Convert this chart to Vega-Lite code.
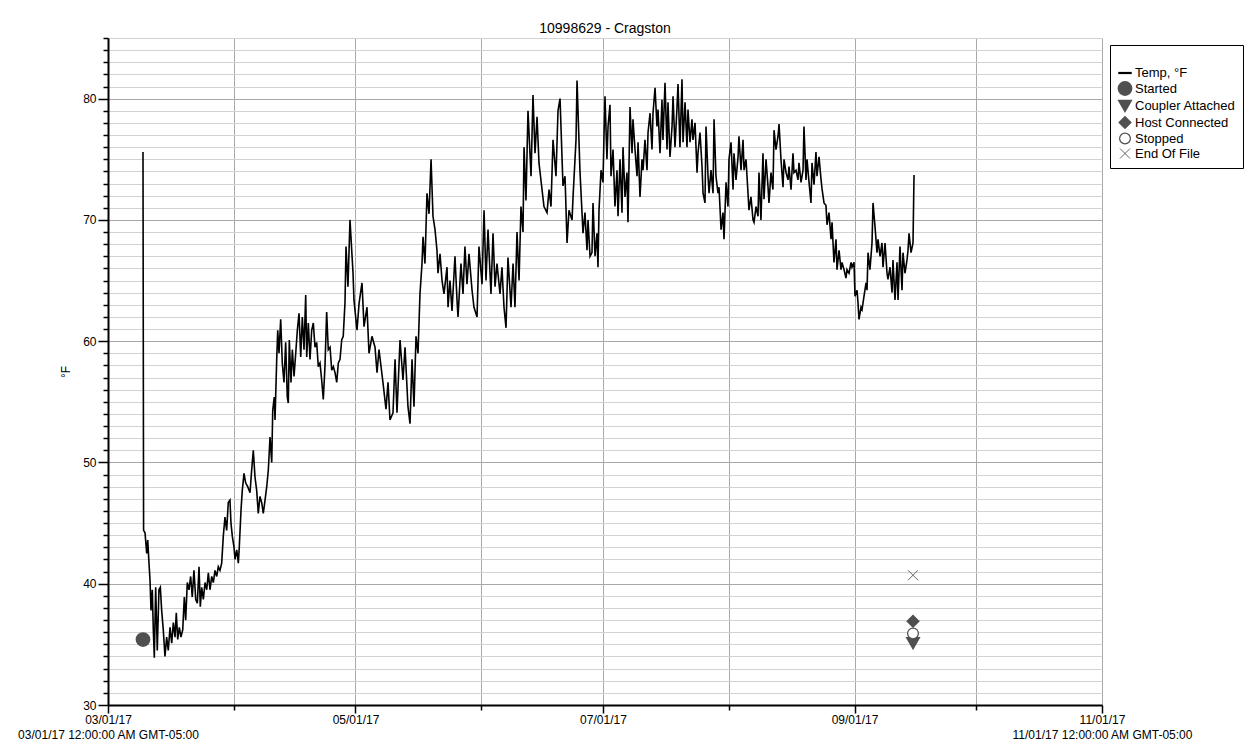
{
  "$schema": "https://vega.github.io/schema/vega-lite/v6.json",
  "width": 994,
  "height": 667,
  "autosize": {"type": "none"},
  "padding": {"left": 108, "top": 38, "right": 148, "bottom": 48},
  "background": "white",
  "config": {
    "font": "Liberation Sans",
    "view": {"stroke": null},
    "axis": {"labelColor": "black", "titleColor": "black"}
  },
  "title": {
    "text": "10998629 - Cragston",
    "fontSize": 14,
    "fontWeight": "normal",
    "color": "black",
    "anchor": "middle",
    "offset": -4
  },
  "datasets": {
    "events": [
      {"t": "2017-03-09T15:00", "event": "Started", "v": 35.4},
      {"t": "2017-09-15T10:00", "event": "Coupler Attached", "v": 35.1},
      {"t": "2017-09-15T10:00", "event": "Host Connected", "v": 36.9},
      {"t": "2017-09-15T10:00", "event": "Stopped", "v": 35.9},
      {"t": "2017-09-15T10:00", "event": "End Of File", "v": 40.7}
    ],
    "temp": [
      {"t": "2017-03-09T15:00", "v": 75.6},
      {"t": "2017-03-09T18:30", "v": 44.4},
      {"t": "2017-03-10T03:00", "v": 44.2},
      {"t": "2017-03-10T13:00", "v": 42.5},
      {"t": "2017-03-10T19:00", "v": 43.6},
      {"t": "2017-03-11T02:30", "v": 41.7},
      {"t": "2017-03-11T08:30", "v": 40.3},
      {"t": "2017-03-11T14:30", "v": 37.8},
      {"t": "2017-03-11T22:00", "v": 39.5},
      {"t": "2017-03-12T04:00", "v": 36.2},
      {"t": "2017-03-12T10:00", "v": 33.9},
      {"t": "2017-03-12T18:00", "v": 39.7},
      {"t": "2017-03-13T03:30", "v": 34.5},
      {"t": "2017-03-13T13:30", "v": 39.5},
      {"t": "2017-03-13T21:30", "v": 39.7},
      {"t": "2017-03-14T05:30", "v": 37.8},
      {"t": "2017-03-14T15:00", "v": 36.2},
      {"t": "2017-03-15T01:00", "v": 34.0},
      {"t": "2017-03-15T11:00", "v": 35.6},
      {"t": "2017-03-15T20:30", "v": 34.5},
      {"t": "2017-03-16T07:00", "v": 36.4},
      {"t": "2017-03-16T17:00", "v": 35.1},
      {"t": "2017-03-17T02:30", "v": 36.8},
      {"t": "2017-03-17T12:30", "v": 35.6},
      {"t": "2017-03-17T20:00", "v": 37.6},
      {"t": "2017-03-18T04:30", "v": 35.4},
      {"t": "2017-03-18T14:00", "v": 36.4},
      {"t": "2017-03-18T23:30", "v": 35.6},
      {"t": "2017-03-19T10:00", "v": 36.2},
      {"t": "2017-03-19T19:30", "v": 38.9},
      {"t": "2017-03-20T03:30", "v": 37.0},
      {"t": "2017-03-20T13:00", "v": 40.1},
      {"t": "2017-03-20T23:00", "v": 39.5},
      {"t": "2017-03-21T09:00", "v": 40.6},
      {"t": "2017-03-21T18:30", "v": 38.9},
      {"t": "2017-03-22T04:30", "v": 41.1},
      {"t": "2017-03-22T15:00", "v": 38.7},
      {"t": "2017-03-23T00:30", "v": 38.4},
      {"t": "2017-03-23T10:30", "v": 41.4},
      {"t": "2017-03-23T18:00", "v": 38.1},
      {"t": "2017-03-24T02:30", "v": 39.7},
      {"t": "2017-03-24T12:00", "v": 38.7},
      {"t": "2017-03-24T22:00", "v": 40.1},
      {"t": "2017-03-25T08:00", "v": 39.5},
      {"t": "2017-03-25T17:30", "v": 40.9},
      {"t": "2017-03-26T03:30", "v": 39.5},
      {"t": "2017-03-26T13:30", "v": 40.6},
      {"t": "2017-03-26T23:00", "v": 40.1},
      {"t": "2017-03-27T09:00", "v": 41.1},
      {"t": "2017-03-27T19:00", "v": 40.6},
      {"t": "2017-03-28T04:30", "v": 41.4},
      {"t": "2017-03-28T14:30", "v": 41.1},
      {"t": "2017-03-29T00:30", "v": 41.7},
      {"t": "2017-03-29T10:00", "v": 43.9},
      {"t": "2017-03-29T20:00", "v": 45.5},
      {"t": "2017-03-30T06:00", "v": 44.4},
      {"t": "2017-03-30T15:30", "v": 46.7},
      {"t": "2017-03-31T01:30", "v": 46.9},
      {"t": "2017-03-31T07:30", "v": 45.0},
      {"t": "2017-03-31T15:30", "v": 43.9},
      {"t": "2017-04-01T01:30", "v": 43.0},
      {"t": "2017-04-01T07:30", "v": 42.0},
      {"t": "2017-04-01T17:30", "v": 42.8},
      {"t": "2017-04-02T03:00", "v": 41.7},
      {"t": "2017-04-02T08:30", "v": 43.0},
      {"t": "2017-04-02T19:00", "v": 46.1},
      {"t": "2017-04-03T02:30", "v": 47.7},
      {"t": "2017-04-03T12:30", "v": 49.1},
      {"t": "2017-04-03T22:30", "v": 48.3},
      {"t": "2017-04-04T10:30", "v": 48.0},
      {"t": "2017-04-05T00:00", "v": 47.5},
      {"t": "2017-04-05T10:00", "v": 49.4},
      {"t": "2017-04-05T19:30", "v": 51.0},
      {"t": "2017-04-06T05:30", "v": 48.8},
      {"t": "2017-04-06T15:30", "v": 47.7},
      {"t": "2017-04-07T01:00", "v": 45.8},
      {"t": "2017-04-07T11:00", "v": 47.2},
      {"t": "2017-04-07T21:00", "v": 46.7},
      {"t": "2017-04-08T06:30", "v": 45.8},
      {"t": "2017-04-08T17:00", "v": 46.9},
      {"t": "2017-04-09T03:00", "v": 48.0},
      {"t": "2017-04-09T12:30", "v": 49.4},
      {"t": "2017-04-09T22:30", "v": 52.1},
      {"t": "2017-04-10T08:30", "v": 50.0},
      {"t": "2017-04-10T14:30", "v": 54.3},
      {"t": "2017-04-10T23:30", "v": 55.4},
      {"t": "2017-04-11T04:00", "v": 53.5},
      {"t": "2017-04-11T14:00", "v": 58.5},
      {"t": "2017-04-11T20:00", "v": 60.9},
      {"t": "2017-04-12T03:30", "v": 59.0},
      {"t": "2017-04-12T13:30", "v": 61.8},
      {"t": "2017-04-12T23:00", "v": 58.2},
      {"t": "2017-04-13T09:00", "v": 56.6},
      {"t": "2017-04-13T19:00", "v": 59.9},
      {"t": "2017-04-14T04:30", "v": 55.4},
      {"t": "2017-04-14T10:30", "v": 54.9},
      {"t": "2017-04-14T16:30", "v": 60.1},
      {"t": "2017-04-15T02:30", "v": 56.6},
      {"t": "2017-04-15T10:30", "v": 59.3},
      {"t": "2017-04-15T20:30", "v": 57.1},
      {"t": "2017-04-16T06:30", "v": 59.0},
      {"t": "2017-04-16T16:00", "v": 60.9},
      {"t": "2017-04-17T02:00", "v": 62.3},
      {"t": "2017-04-17T12:00", "v": 58.7},
      {"t": "2017-04-17T21:30", "v": 62.0},
      {"t": "2017-04-18T07:30", "v": 59.3},
      {"t": "2017-04-18T17:30", "v": 63.8},
      {"t": "2017-04-18T23:30", "v": 58.7},
      {"t": "2017-04-19T09:00", "v": 61.5},
      {"t": "2017-04-19T19:00", "v": 58.5},
      {"t": "2017-04-20T05:00", "v": 60.9},
      {"t": "2017-04-20T14:30", "v": 61.5},
      {"t": "2017-04-21T00:30", "v": 59.5},
      {"t": "2017-04-21T10:30", "v": 59.9},
      {"t": "2017-04-21T20:00", "v": 57.9},
      {"t": "2017-04-22T06:00", "v": 58.2},
      {"t": "2017-04-22T16:00", "v": 56.8},
      {"t": "2017-04-23T01:30", "v": 55.2},
      {"t": "2017-04-23T11:30", "v": 57.9},
      {"t": "2017-04-23T21:30", "v": 62.4},
      {"t": "2017-04-24T07:00", "v": 59.3},
      {"t": "2017-04-24T17:30", "v": 59.5},
      {"t": "2017-04-25T03:30", "v": 57.6},
      {"t": "2017-04-25T13:00", "v": 57.9},
      {"t": "2017-04-25T23:00", "v": 57.4},
      {"t": "2017-04-26T09:00", "v": 56.6},
      {"t": "2017-04-26T18:30", "v": 58.2},
      {"t": "2017-04-27T04:30", "v": 58.5},
      {"t": "2017-04-27T14:30", "v": 60.1},
      {"t": "2017-04-27T23:30", "v": 60.4},
      {"t": "2017-04-28T10:00", "v": 63.2},
      {"t": "2017-04-28T16:00", "v": 67.8},
      {"t": "2017-04-29T03:30", "v": 64.5},
      {"t": "2017-04-29T15:30", "v": 70.0},
      {"t": "2017-04-30T09:30", "v": 65.6},
      {"t": "2017-04-30T15:00", "v": 63.4},
      {"t": "2017-05-01T09:00", "v": 60.9},
      {"t": "2017-05-01T21:00", "v": 63.1},
      {"t": "2017-05-02T14:30", "v": 64.8},
      {"t": "2017-05-03T02:30", "v": 61.2},
      {"t": "2017-05-03T20:00", "v": 62.8},
      {"t": "2017-05-04T08:00", "v": 59.0},
      {"t": "2017-05-05T01:30", "v": 60.4},
      {"t": "2017-05-05T19:30", "v": 59.5},
      {"t": "2017-05-06T07:30", "v": 57.4},
      {"t": "2017-05-06T19:00", "v": 59.3},
      {"t": "2017-05-07T18:30", "v": 56.6},
      {"t": "2017-05-08T12:30", "v": 54.4},
      {"t": "2017-05-09T00:30", "v": 56.6},
      {"t": "2017-05-09T12:00", "v": 53.5},
      {"t": "2017-05-10T06:00", "v": 54.1},
      {"t": "2017-05-10T18:00", "v": 58.5},
      {"t": "2017-05-11T05:30", "v": 54.1},
      {"t": "2017-05-11T23:30", "v": 60.1},
      {"t": "2017-05-12T17:00", "v": 56.8},
      {"t": "2017-05-13T05:00", "v": 59.5},
      {"t": "2017-05-13T22:30", "v": 54.6},
      {"t": "2017-05-14T10:30", "v": 53.2},
      {"t": "2017-05-14T22:30", "v": 58.5},
      {"t": "2017-05-15T10:00", "v": 54.6},
      {"t": "2017-05-15T22:00", "v": 60.4},
      {"t": "2017-05-16T10:00", "v": 59.0},
      {"t": "2017-05-16T21:30", "v": 63.9},
      {"t": "2017-05-17T09:30", "v": 66.4},
      {"t": "2017-05-17T15:30", "v": 68.6},
      {"t": "2017-05-18T03:00", "v": 66.4},
      {"t": "2017-05-18T15:00", "v": 72.2},
      {"t": "2017-05-19T03:00", "v": 70.5},
      {"t": "2017-05-19T15:00", "v": 75.0},
      {"t": "2017-05-20T02:30", "v": 70.3},
      {"t": "2017-05-20T14:30", "v": 69.2},
      {"t": "2017-05-21T02:00", "v": 67.5},
      {"t": "2017-05-21T08:00", "v": 65.6},
      {"t": "2017-05-21T20:00", "v": 67.2},
      {"t": "2017-05-22T08:00", "v": 65.0},
      {"t": "2017-05-22T19:30", "v": 63.9},
      {"t": "2017-05-23T13:30", "v": 66.1},
      {"t": "2017-05-23T19:30", "v": 62.8},
      {"t": "2017-05-24T07:00", "v": 65.0},
      {"t": "2017-05-24T19:00", "v": 62.5},
      {"t": "2017-05-25T12:30", "v": 67.0},
      {"t": "2017-05-26T00:30", "v": 63.4},
      {"t": "2017-05-26T06:30", "v": 62.0},
      {"t": "2017-05-27T00:00", "v": 66.4},
      {"t": "2017-05-27T12:00", "v": 63.9},
      {"t": "2017-05-27T23:30", "v": 67.8},
      {"t": "2017-05-28T11:30", "v": 64.7},
      {"t": "2017-05-28T23:30", "v": 67.2},
      {"t": "2017-05-29T17:30", "v": 64.2},
      {"t": "2017-05-30T05:00", "v": 62.8},
      {"t": "2017-05-30T23:00", "v": 62.0},
      {"t": "2017-05-31T10:30", "v": 67.8},
      {"t": "2017-06-01T04:30", "v": 64.7},
      {"t": "2017-06-01T16:30", "v": 70.8},
      {"t": "2017-06-02T04:00", "v": 65.0},
      {"t": "2017-06-02T16:00", "v": 69.2},
      {"t": "2017-06-03T09:30", "v": 63.9},
      {"t": "2017-06-03T21:30", "v": 68.9},
      {"t": "2017-06-04T09:30", "v": 64.5},
      {"t": "2017-06-04T21:00", "v": 66.4},
      {"t": "2017-06-05T15:00", "v": 63.9},
      {"t": "2017-06-06T02:30", "v": 66.1},
      {"t": "2017-06-06T14:30", "v": 62.8},
      {"t": "2017-06-07T02:30", "v": 61.1},
      {"t": "2017-06-07T14:00", "v": 66.9},
      {"t": "2017-06-08T08:00", "v": 62.8},
      {"t": "2017-06-08T20:00", "v": 66.4},
      {"t": "2017-06-09T07:30", "v": 62.8},
      {"t": "2017-06-09T19:30", "v": 69.0},
      {"t": "2017-06-10T07:30", "v": 65.0},
      {"t": "2017-06-10T19:00", "v": 71.1},
      {"t": "2017-06-11T07:00", "v": 69.0},
      {"t": "2017-06-11T13:00", "v": 76.0},
      {"t": "2017-06-12T00:30", "v": 71.6},
      {"t": "2017-06-12T12:30", "v": 79.0},
      {"t": "2017-06-13T06:30", "v": 73.6},
      {"t": "2017-06-13T18:00", "v": 80.3},
      {"t": "2017-06-14T06:00", "v": 75.5},
      {"t": "2017-06-14T18:00", "v": 78.5},
      {"t": "2017-06-15T05:30", "v": 74.7},
      {"t": "2017-06-15T23:30", "v": 72.5},
      {"t": "2017-06-16T11:00", "v": 71.1},
      {"t": "2017-06-17T05:00", "v": 70.6},
      {"t": "2017-06-17T17:00", "v": 72.5},
      {"t": "2017-06-18T04:30", "v": 71.1},
      {"t": "2017-06-18T16:30", "v": 76.6},
      {"t": "2017-06-19T10:00", "v": 73.6},
      {"t": "2017-06-19T22:00", "v": 79.0},
      {"t": "2017-06-20T10:00", "v": 80.0},
      {"t": "2017-06-21T03:30", "v": 72.8},
      {"t": "2017-06-21T15:30", "v": 73.6},
      {"t": "2017-06-22T03:30", "v": 68.1},
      {"t": "2017-06-22T15:00", "v": 70.8},
      {"t": "2017-06-23T09:00", "v": 70.0},
      {"t": "2017-06-23T15:00", "v": 71.9},
      {"t": "2017-06-24T08:30", "v": 76.6},
      {"t": "2017-06-24T14:30", "v": 81.5},
      {"t": "2017-06-25T08:00", "v": 74.0},
      {"t": "2017-06-26T02:00", "v": 68.9},
      {"t": "2017-06-26T13:30", "v": 70.6},
      {"t": "2017-06-27T01:30", "v": 67.5},
      {"t": "2017-06-27T07:30", "v": 70.0},
      {"t": "2017-06-27T19:30", "v": 67.0},
      {"t": "2017-06-28T07:00", "v": 67.3},
      {"t": "2017-06-28T13:00", "v": 71.4},
      {"t": "2017-06-29T01:00", "v": 67.0},
      {"t": "2017-06-29T12:30", "v": 68.9},
      {"t": "2017-06-29T18:30", "v": 66.1},
      {"t": "2017-06-30T00:30", "v": 70.8},
      {"t": "2017-06-30T12:30", "v": 74.1},
      {"t": "2017-07-01T00:00", "v": 73.1},
      {"t": "2017-07-01T06:00", "v": 76.9},
      {"t": "2017-07-01T12:00", "v": 80.2},
      {"t": "2017-07-01T23:30", "v": 75.0},
      {"t": "2017-07-02T06:00", "v": 77.7},
      {"t": "2017-07-02T17:30", "v": 79.5},
      {"t": "2017-07-02T23:30", "v": 73.6},
      {"t": "2017-07-03T11:30", "v": 75.8},
      {"t": "2017-07-03T23:00", "v": 71.1},
      {"t": "2017-07-04T11:00", "v": 74.1},
      {"t": "2017-07-04T17:00", "v": 70.3},
      {"t": "2017-07-05T05:00", "v": 75.0},
      {"t": "2017-07-05T16:30", "v": 70.6},
      {"t": "2017-07-05T22:30", "v": 76.0},
      {"t": "2017-07-06T10:30", "v": 71.9},
      {"t": "2017-07-06T22:00", "v": 73.9},
      {"t": "2017-07-07T04:00", "v": 69.8},
      {"t": "2017-07-07T16:00", "v": 79.3},
      {"t": "2017-07-08T04:00", "v": 75.5},
      {"t": "2017-07-08T09:30", "v": 78.3},
      {"t": "2017-07-08T21:30", "v": 75.8},
      {"t": "2017-07-09T09:30", "v": 73.6},
      {"t": "2017-07-09T15:30", "v": 76.4},
      {"t": "2017-07-10T03:00", "v": 71.9},
      {"t": "2017-07-10T15:00", "v": 75.0},
      {"t": "2017-07-10T21:00", "v": 74.1},
      {"t": "2017-07-11T08:30", "v": 76.6},
      {"t": "2017-07-11T20:30", "v": 74.1},
      {"t": "2017-07-12T02:30", "v": 77.2},
      {"t": "2017-07-12T14:30", "v": 78.8},
      {"t": "2017-07-13T02:00", "v": 75.8},
      {"t": "2017-07-13T08:00", "v": 78.8},
      {"t": "2017-07-13T20:00", "v": 80.9},
      {"t": "2017-07-14T07:30", "v": 77.7},
      {"t": "2017-07-14T13:30", "v": 79.1},
      {"t": "2017-07-15T01:30", "v": 75.5},
      {"t": "2017-07-15T13:00", "v": 79.9},
      {"t": "2017-07-15T19:00", "v": 76.6},
      {"t": "2017-07-16T07:00", "v": 81.3},
      {"t": "2017-07-16T19:00", "v": 75.8},
      {"t": "2017-07-17T00:30", "v": 79.7},
      {"t": "2017-07-17T12:30", "v": 75.2},
      {"t": "2017-07-18T00:30", "v": 77.7},
      {"t": "2017-07-18T06:30", "v": 80.2},
      {"t": "2017-07-18T18:00", "v": 76.0},
      {"t": "2017-07-19T06:00", "v": 79.3},
      {"t": "2017-07-19T12:00", "v": 81.2},
      {"t": "2017-07-19T23:30", "v": 76.0},
      {"t": "2017-07-20T11:30", "v": 81.6},
      {"t": "2017-07-20T17:30", "v": 76.4},
      {"t": "2017-07-21T05:30", "v": 79.7},
      {"t": "2017-07-21T17:00", "v": 76.0},
      {"t": "2017-07-21T23:00", "v": 79.1},
      {"t": "2017-07-22T11:00", "v": 76.4},
      {"t": "2017-07-22T22:30", "v": 78.3},
      {"t": "2017-07-23T04:30", "v": 76.6},
      {"t": "2017-07-23T16:30", "v": 78.0},
      {"t": "2017-07-24T04:30", "v": 73.9},
      {"t": "2017-07-24T10:00", "v": 75.5},
      {"t": "2017-07-24T22:00", "v": 77.2},
      {"t": "2017-07-25T10:00", "v": 74.4},
      {"t": "2017-07-25T16:00", "v": 72.2},
      {"t": "2017-07-26T03:30", "v": 71.4},
      {"t": "2017-07-26T09:30", "v": 77.7},
      {"t": "2017-07-26T21:30", "v": 73.6},
      {"t": "2017-07-27T03:30", "v": 72.2},
      {"t": "2017-07-27T15:00", "v": 74.1},
      {"t": "2017-07-28T03:00", "v": 72.2},
      {"t": "2017-07-28T09:00", "v": 78.3},
      {"t": "2017-07-28T20:30", "v": 73.6},
      {"t": "2017-07-29T08:30", "v": 72.2},
      {"t": "2017-07-29T14:30", "v": 72.7},
      {"t": "2017-07-30T02:30", "v": 69.2},
      {"t": "2017-07-30T14:00", "v": 70.6},
      {"t": "2017-07-30T20:00", "v": 68.4},
      {"t": "2017-07-31T08:00", "v": 73.1},
      {"t": "2017-07-31T19:30", "v": 71.1},
      {"t": "2017-08-01T01:30", "v": 75.0},
      {"t": "2017-08-01T13:30", "v": 76.4},
      {"t": "2017-08-02T01:30", "v": 72.5},
      {"t": "2017-08-02T07:00", "v": 75.5},
      {"t": "2017-08-02T19:00", "v": 73.3},
      {"t": "2017-08-03T07:00", "v": 75.2},
      {"t": "2017-08-03T12:30", "v": 76.9},
      {"t": "2017-08-04T00:30", "v": 74.1},
      {"t": "2017-08-04T12:30", "v": 76.6},
      {"t": "2017-08-04T18:30", "v": 74.1},
      {"t": "2017-08-05T06:00", "v": 75.0},
      {"t": "2017-08-05T18:00", "v": 72.2},
      {"t": "2017-08-05T23:30", "v": 70.8},
      {"t": "2017-08-06T11:30", "v": 71.9},
      {"t": "2017-08-06T23:30", "v": 70.0},
      {"t": "2017-08-07T05:30", "v": 69.8},
      {"t": "2017-08-07T17:30", "v": 71.1},
      {"t": "2017-08-08T05:00", "v": 70.3},
      {"t": "2017-08-08T11:00", "v": 73.9},
      {"t": "2017-08-08T22:30", "v": 70.0},
      {"t": "2017-08-09T10:30", "v": 75.5},
      {"t": "2017-08-09T16:30", "v": 71.7},
      {"t": "2017-08-10T04:30", "v": 75.0},
      {"t": "2017-08-10T16:30", "v": 72.7},
      {"t": "2017-08-10T22:00", "v": 71.4},
      {"t": "2017-08-11T10:00", "v": 73.9},
      {"t": "2017-08-11T21:30", "v": 72.5},
      {"t": "2017-08-12T04:00", "v": 77.4},
      {"t": "2017-08-12T15:30", "v": 75.8},
      {"t": "2017-08-13T03:30", "v": 76.9},
      {"t": "2017-08-13T09:30", "v": 77.9},
      {"t": "2017-08-13T21:00", "v": 75.0},
      {"t": "2017-08-14T09:00", "v": 72.7},
      {"t": "2017-08-14T15:00", "v": 75.0},
      {"t": "2017-08-15T03:00", "v": 73.9},
      {"t": "2017-08-15T14:30", "v": 73.3},
      {"t": "2017-08-15T20:30", "v": 74.4},
      {"t": "2017-08-16T08:30", "v": 72.5},
      {"t": "2017-08-16T20:00", "v": 75.5},
      {"t": "2017-08-17T02:00", "v": 73.9},
      {"t": "2017-08-17T14:00", "v": 74.1},
      {"t": "2017-08-18T01:30", "v": 73.3},
      {"t": "2017-08-18T07:30", "v": 74.7},
      {"t": "2017-08-18T19:30", "v": 73.1},
      {"t": "2017-08-19T07:30", "v": 74.1},
      {"t": "2017-08-19T13:00", "v": 77.7},
      {"t": "2017-08-20T01:00", "v": 73.3},
      {"t": "2017-08-20T07:00", "v": 75.0},
      {"t": "2017-08-20T19:00", "v": 73.1},
      {"t": "2017-08-21T06:30", "v": 71.4},
      {"t": "2017-08-21T12:30", "v": 74.7},
      {"t": "2017-08-22T00:30", "v": 72.9},
      {"t": "2017-08-22T12:00", "v": 75.6},
      {"t": "2017-08-22T18:00", "v": 73.6},
      {"t": "2017-08-23T06:00", "v": 75.2},
      {"t": "2017-08-23T17:30", "v": 73.4},
      {"t": "2017-08-23T23:30", "v": 72.6},
      {"t": "2017-08-24T11:30", "v": 71.4},
      {"t": "2017-08-24T23:00", "v": 71.2},
      {"t": "2017-08-25T05:30", "v": 69.6},
      {"t": "2017-08-25T17:00", "v": 70.6},
      {"t": "2017-08-26T05:00", "v": 68.4},
      {"t": "2017-08-26T11:00", "v": 69.8},
      {"t": "2017-08-26T22:30", "v": 66.5},
      {"t": "2017-08-27T10:30", "v": 68.4},
      {"t": "2017-08-27T16:30", "v": 65.9},
      {"t": "2017-08-28T04:30", "v": 67.5},
      {"t": "2017-08-28T16:00", "v": 65.9},
      {"t": "2017-08-28T22:00", "v": 66.5},
      {"t": "2017-08-29T10:00", "v": 65.9},
      {"t": "2017-08-29T21:30", "v": 65.2},
      {"t": "2017-08-30T03:30", "v": 65.9},
      {"t": "2017-08-30T15:30", "v": 65.6},
      {"t": "2017-08-31T03:30", "v": 66.5},
      {"t": "2017-08-31T09:00", "v": 66.1},
      {"t": "2017-08-31T21:00", "v": 66.5},
      {"t": "2017-09-01T03:00", "v": 63.7},
      {"t": "2017-09-01T15:00", "v": 64.2},
      {"t": "2017-09-01T20:30", "v": 63.2},
      {"t": "2017-09-02T02:30", "v": 61.8},
      {"t": "2017-09-02T14:30", "v": 62.8},
      {"t": "2017-09-02T20:30", "v": 62.6},
      {"t": "2017-09-03T08:00", "v": 63.7},
      {"t": "2017-09-03T20:00", "v": 64.8},
      {"t": "2017-09-04T02:00", "v": 64.2},
      {"t": "2017-09-04T08:00", "v": 67.3},
      {"t": "2017-09-04T19:30", "v": 65.9},
      {"t": "2017-09-05T07:30", "v": 68.1},
      {"t": "2017-09-05T13:30", "v": 71.4},
      {"t": "2017-09-06T01:30", "v": 69.4},
      {"t": "2017-09-06T13:00", "v": 67.3},
      {"t": "2017-09-06T19:00", "v": 68.4},
      {"t": "2017-09-07T07:00", "v": 67.0},
      {"t": "2017-09-07T18:30", "v": 68.1},
      {"t": "2017-09-08T00:30", "v": 66.1},
      {"t": "2017-09-08T12:30", "v": 68.1},
      {"t": "2017-09-09T00:15", "v": 65.6},
      {"t": "2017-09-09T06:00", "v": 65.1},
      {"t": "2017-09-09T18:00", "v": 66.1},
      {"t": "2017-09-10T06:00", "v": 64.0},
      {"t": "2017-09-10T11:30", "v": 66.7},
      {"t": "2017-09-10T23:30", "v": 63.4},
      {"t": "2017-09-11T11:30", "v": 66.5},
      {"t": "2017-09-11T17:30", "v": 63.4},
      {"t": "2017-09-12T05:00", "v": 67.8},
      {"t": "2017-09-12T17:00", "v": 64.2},
      {"t": "2017-09-12T22:45", "v": 67.3},
      {"t": "2017-09-13T10:30", "v": 65.6},
      {"t": "2017-09-13T22:30", "v": 66.7},
      {"t": "2017-09-14T04:30", "v": 67.5},
      {"t": "2017-09-14T10:30", "v": 68.9},
      {"t": "2017-09-14T22:15", "v": 67.3},
      {"t": "2017-09-15T10:00", "v": 68.1},
      {"t": "2017-09-15T16:00", "v": 73.7}
    ]
  },
  "resolve": {"axis": {"x": "independent"}},
  "layer": [
    {
      "data": {"name": "temp"},
      "mark": {"type": "line", "color": "black", "strokeWidth": 1.6},
      "encoding": {
        "x": {
          "field": "t",
          "type": "temporal",
          "scale": {"domain": [{"year": 2017, "month": 3, "date": 1}, {"year": 2017, "month": 11, "date": 1}]},
          "axis": {
            "title": null,
            "values": [
              {"year": 2017, "month": 3, "date": 1},
              {"year": 2017, "month": 4, "date": 1},
              {"year": 2017, "month": 5, "date": 1},
              {"year": 2017, "month": 6, "date": 1},
              {"year": 2017, "month": 7, "date": 1},
              {"year": 2017, "month": 8, "date": 1},
              {"year": 2017, "month": 9, "date": 1},
              {"year": 2017, "month": 10, "date": 1},
              {"year": 2017, "month": 11, "date": 1}
            ],
            "tickCount": 20,
            "labelExpr": "month(datum.value) % 2 == 0 ? timeFormat(datum.value, '%m/%d/%y') : ''",
            "labelOverlap": false,
            "labelFlush": false,
            "labelFontSize": 12,
            "labelPadding": 1,
            "grid": true,
            "gridColor": "#a8a8a8",
            "gridWidth": 1,
            "domainColor": "black",
            "domainWidth": 2,
            "tickColor": "black",
            "tickWidth": 1.5,
            "tickSize": {"condition": {"test": "month(datum.value) % 2 == 0", "value": 8}, "value": 5}
          }
        },
        "y": {
          "field": "v",
          "type": "quantitative",
          "title": "°F",
          "scale": {"domain": [30, 85], "nice": false, "zero": false},
          "axis": {
            "values": [30, 31, 32, 33, 34, 35, 36, 37, 38, 39, 40, 41, 42, 43, 44, 45, 46, 47, 48, 49, 50, 51, 52, 53, 54, 55, 56, 57, 58, 59, 60, 61, 62, 63, 64, 65, 66, 67, 68, 69, 70, 71, 72, 73, 74, 75, 76, 77, 78, 79, 80, 81, 82, 83, 84, 85],
            "tickCount": 100,
            "labelExpr": "datum.value % 10 == 0 ? format(datum.value, 'd') : ''",
            "labelFontSize": 12,
            "labelPadding": 2,
            "labelOverlap": false,
            "grid": true,
            "gridColor": {"condition": {"test": "datum.value % 10 == 0", "value": "#a8a8a8"}, "value": "#d2d2d2"},
            "gridWidth": 1,
            "domainColor": "black",
            "domainWidth": 2,
            "tickColor": "black",
            "tickWidth": 1.5,
            "tickSize": {"condition": {"test": "datum.value % 10 == 0", "value": 10}, "value": 5},
            "titleFontSize": 12,
            "titleFontWeight": "normal",
            "titlePadding": 10
          }
        }
      }
    },
    {
      "data": {"name": "events"},
      "mark": {"type": "point", "filled": true, "opacity": 1},
      "encoding": {
        "x": {
          "field": "t",
          "type": "temporal",
          "axis": {
            "orient": "bottom",
            "title": null,
            "values": [
              {"year": 2017, "month": 3, "date": 1},
              {"year": 2017, "month": 11, "date": 1}
            ],
            "labelExpr": "timeFormat(datum.value, '%m/%d/%y %I:%M:%S %p') + ' GMT-05:00'",
            "labelFontSize": 12,
            "labelLimit": 0,
            "labelOverlap": false,
            "labelFlush": false,
            "labelPadding": 24,
            "grid": false,
            "ticks": false,
            "domain": false
          }
        },
        "y": {"field": "v", "type": "quantitative", "title": "°F"},
        "shape": {
          "field": "event",
          "type": "nominal",
          "scale": {
            "domain": ["Temp, °F", "Started", "Coupler Attached", "Host Connected", "Stopped", "End Of File"],
            "range": ["stroke", "circle", "triangle-down", "diamond", "circle", "M-1,-1L1,1M-1,1L1,-1"]
          },
          "legend": {
            "title": " ",
            "titleFontSize": 9,
            "titlePadding": 4,
            "orient": "none",
            "legendX": 1002,
            "legendY": 7,
            "strokeColor": "black",
            "fillColor": "white",
            "padding": 7,
            "labelFontSize": 13,
            "labelColor": "black",
            "labelOffset": 2,
            "rowPadding": -2
          }
        },
        "fill": {
          "field": "event",
          "type": "nominal",
          "scale": {
            "domain": ["Temp, °F", "Started", "Coupler Attached", "Host Connected", "Stopped", "End Of File"],
            "range": ["black", "#505050", "#505050", "#505050", "white", "transparent"]
          }
        },
        "stroke": {
          "field": "event",
          "type": "nominal",
          "scale": {
            "domain": ["Temp, °F", "Started", "Coupler Attached", "Host Connected", "Stopped", "End Of File"],
            "range": ["black", "#505050", "#505050", "#505050", "#505050", "#666666"]
          }
        },
        "size": {
          "field": "event",
          "type": "nominal",
          "scale": {
            "domain": ["Temp, °F", "Started", "Coupler Attached", "Host Connected", "Stopped", "End Of File"],
            "range": [180, 100, 50, 50, 60, 80]
          }
        },
        "strokeWidth": {
          "field": "event",
          "type": "nominal",
          "scale": {
            "domain": ["Temp, °F", "Started", "Coupler Attached", "Host Connected", "Stopped", "End Of File"],
            "range": [2.2, 1, 1, 1, 1.3, 1.3]
          }
        }
      }
    }
  ]
}
